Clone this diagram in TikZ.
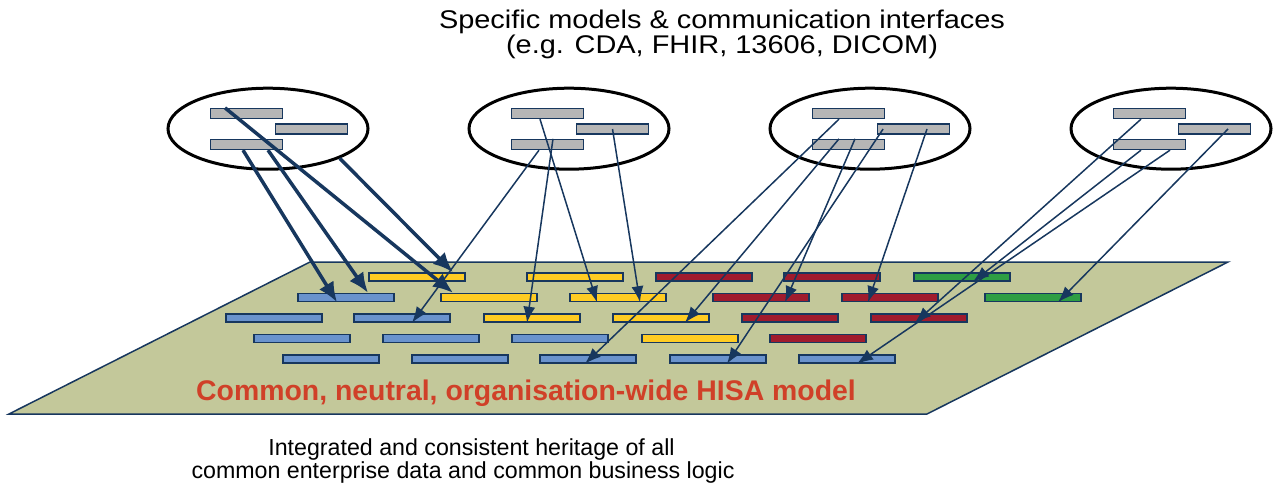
\documentclass[tikz,border=0pt]{standalone}
\usepackage{fontspec}
\setmainfont{Liberation Sans}
\newfontfamily\specfont{Liberation Sans}[FakeStretch=1.13]
\usetikzlibrary{shapes.geometric,arrows.meta,positioning}

\definecolor{navy}{RGB}{23,55,94}
\definecolor{plane}{RGB}{195,200,154}
\definecolor{fieldgrey}{RGB}{182,182,182}
\definecolor{barblue}{RGB}{106,147,205}
\definecolor{baryellow}{RGB}{255,204,34}
\definecolor{barred}{RGB}{160,27,45}
\definecolor{bargreen}{RGB}{46,158,68}
\definecolor{hisared}{RGB}{208,64,40}

\tikzset{
  spec/.style={ellipse,draw=black,line width=3pt,minimum width=200pt,minimum height=81pt,inner sep=0pt},
  field/.style={rectangle,draw=navy,line width=1.3pt,fill=fieldgrey,minimum width=71.5pt,minimum height=10pt,inner sep=0pt},
  hisabar/.style={rectangle,draw=navy,line width=1.6pt,minimum width=96.5pt,minimum height=7.8pt,inner sep=0pt},
  bluebar/.style={hisabar,fill=barblue},
  yellowbar/.style={hisabar,fill=baryellow},
  redbar/.style={hisabar,fill=barred},
  greenbar/.style={hisabar,fill=bargreen},
  link/.style={draw=navy,line width=1.5pt,-{Latex[length=16pt,width=12pt]}},
  heavylink/.style={draw=navy,line width=3.5pt,-{Latex[length=20pt,width=17pt]}},
  caption/.style={anchor=base,inner sep=0pt}
}

\begin{document}
\begin{tikzpicture}[x=1pt,y=-1pt]
  \useasboundingbox (0,0) rectangle (1282,484);

  \draw[draw=navy,line width=1.5pt,fill=plane] (310,262) -- (1228,262) -- (927,414) -- (9,414) -- cycle;

  \node[yellowbar] (r1c1) at (417,277) {};
  \node[yellowbar] (r1c2) at (575,277) {};
  \node[redbar] (r1c3) at (704,277) {};
  \node[redbar] (r1c4) at (832,277) {};
  \node[greenbar] (r1c5) at (962,277) {};

  \node[bluebar] (r2c1) at (346,297.5) {};
  \node[yellowbar] (r2c2) at (489,297.5) {};
  \node[yellowbar] (r2c3) at (618,297.5) {};
  \node[redbar] (r2c4) at (761,297.5) {};
  \node[redbar] (r2c5) at (890,297.5) {};
  \node[greenbar] (r2c6) at (1033,297.5) {};

  \node[bluebar] (r3c1) at (274,318) {};
  \node[bluebar] (r3c2) at (402,318) {};
  \node[yellowbar] (r3c3) at (532,318) {};
  \node[yellowbar] (r3c4) at (661,318) {};
  \node[redbar] (r3c5) at (790,318) {};
  \node[redbar] (r3c6) at (919,318) {};

  \node[bluebar] (r4c1) at (302,338.5) {};
  \node[bluebar] (r4c2) at (431,338.5) {};
  \node[bluebar] (r4c3) at (560,338.5) {};
  \node[yellowbar] (r4c4) at (690,338.5) {};
  \node[redbar] (r4c5) at (818,338.5) {};

  \node[bluebar] (r5c1) at (331,359) {};
  \node[bluebar] (r5c2) at (460,359) {};
  \node[bluebar] (r5c3) at (588,359) {};
  \node[bluebar] (r5c4) at (718,359) {};
  \node[bluebar] (r5c5) at (847,359) {};

  \node[spec] (spec1) at (268,128.7) {};
  \node[spec] (spec2) at (569,128.7) {};
  \node[spec] (spec3) at (870,128.7) {};
  \node[spec] (spec4) at (1171,128.7) {};

  \node[field] (spec1a) at (246.5,113.5) {};
  \node[field] (spec1b) at (311.5,129) {};
  \node[field] (spec1c) at (246.5,144.5) {};
  \node[field] (spec2a) at (547.5,113.5) {};
  \node[field] (spec2b) at (612.5,129) {};
  \node[field] (spec2c) at (547.5,144.5) {};
  \node[field] (spec3a) at (848.5,113.5) {};
  \node[field] (spec3b) at (913.5,129) {};
  \node[field] (spec3c) at (848.5,144.5) {};
  \node[field] (spec4a) at (1149.5,113.5) {};
  \node[field] (spec4b) at (1214.5,129) {};
  \node[field] (spec4c) at (1149.5,144.5) {};

  \draw[heavylink] ([xshift=-21.5]spec1a.north) -- ([xshift=-36]r2c2.north);
  \draw[heavylink] ([xshift=-3.5]spec1c.south) -- ([xshift=-9]r2c1.south);
  \draw[heavylink] ([xshift=21.5]spec1c.south) -- ([xshift=22]r2c1.north);
  \draw[heavylink] (spec1.south east) -- ([xshift=36]r1c1.north);

  \draw[link] ([xshift=-8.5]spec2c.south) -- ([xshift=10]r3c2.south);
  \draw[link] ([xshift=5.5]spec2c.north) -- ([xshift=-5]r3c3.south);
  \draw[link] ([xshift=-7.5]spec2a.south) -- ([xshift=-21]r2c3.south);
  \draw[link] (spec2b.center) -- ([xshift=22]r2c3.south);

  \draw[link] ([xshift=-9.5]spec3a.south) -- ([xshift=-3]r5c3.south);
  \draw[link] ([xshift=-9.5]spec3c.north) -- ([xshift=24]r3c4.south);
  \draw[link] ([xshift=6.5]spec3c.north) -- ([xshift=24]r2c4.south);
  \draw[link] ([xshift=6]spec3b.west) -- ([xshift=9]r5c4.south);
  \draw[link] ([xshift=13.5]spec3b.center) -- ([xshift=-22]r2c5.south);

  \draw[link] ([xshift=-8.5]spec4a.south) -- ([xshift=-4]r3c6.south);
  \draw[link] ([xshift=-8.5]spec4c.south) -- ([xshift=11]r1c5.south);
  \draw[link] ([xshift=20.5]spec4c.south) -- ([xshift=10]r5c5.south);
  \draw[link] ([xshift=13.5]spec4b.center) -- ([xshift=25]r2c6.south);

  \node[caption,font=\specfont\fontsize{25.6}{25.6}\selectfont] (title1) at (722,28.3) {Specific models \& communication interfaces};
  \node[caption,font=\specfont\fontsize{25.6}{25.6}\selectfont] (title2) at (722,53.3) {(e.g. CDA, FHIR, 13606, DICOM)};
  \node[caption,font=\bfseries\fontsize{28.4}{28.4}\selectfont,text=hisared] (hisa) at (526,400) {Common, neutral, organisation-wide HISA model};
  \node[caption,font=\fontsize{23.2}{23.2}\selectfont] (heritage1) at (471.5,455.5) {Integrated and consistent heritage of all};
  \node[caption,font=\fontsize{23.2}{23.2}\selectfont] (heritage2) at (463,478.5) {common enterprise data and common business logic};
\end{tikzpicture}
\end{document}
